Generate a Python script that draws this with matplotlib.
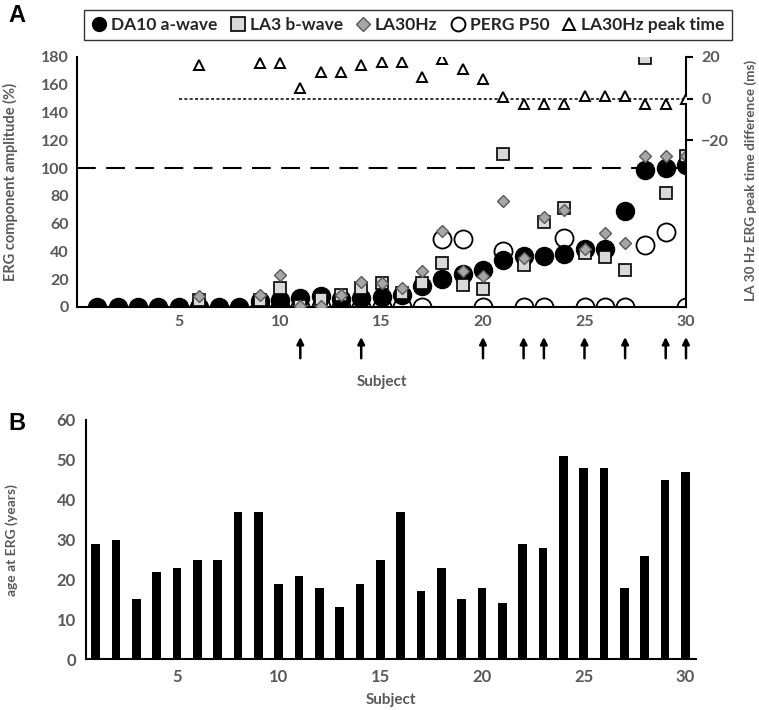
import numpy as np
import matplotlib
matplotlib.use('Agg')
import matplotlib.pyplot as plt
from matplotlib.lines import Line2D

plt.rcParams['font.family'] = ['Lato', 'DejaVu Sans']
plt.rcParams['font.weight'] = 'bold'
plt.rcParams['axes.labelweight'] = 'bold'

GREY_TXT = '#595959'
SQ_FILL = '#D9D9D9'
DIA_FILL = '#A6A6A6'
DIA_EDGE = '#595959'

nan = np.nan
subjects = np.arange(1, 31)

# panel A: amplitudes (% of normal) and peak-time difference (ms)
da10 = [0, 0, 0, 0, 0, 0, 0, 0, 4, 5, 6.5, 8, 6, 6.5, 7, 9, 15, 20, 24, 27,
        34, 37, 37, 38, 42, 42, 69, 99, 100, 102]
la3 = [nan, nan, nan, nan, nan, 5, nan, nan, 5, 14, 1, 6, 9, 14, 17, 10, 17, 32, 16, 13,
       110, 30, 61, 71, 39, 36, 27, 179, 82, 109]
la30 = [nan, nan, nan, nan, nan, 8, nan, nan, 9, 23, 0.5, 1, 9, 18, 17, 14, 26, 55, 26, 22,
        76.5, 35, 65, 70, 42, 53, 46, 109, 109, 109]
perg = [nan, nan, nan, nan, nan, nan, nan, nan, 0, 0, 0, 0, 0, 0, 0, 0, 0, 49, 49, 0,
        40, 0, 0, 49.5, 0, 0, 0, 45, 54, 0]
peak = [nan, nan, nan, nan, nan, 16, nan, nan, 17, 17, 5, 13, 13, 16, 17.5, 17.5, 10.5, 19, 14, 9.5,
        1, -2.5, -2.5, -2.5, 1.3, 1.3, 1.3, -2.5, -2.5, 0]
arrow_subjects = [11, 14, 20, 22, 23, 25, 27, 29, 30]

# panel B: age at ERG (years)
ages = [29, 30, 15, 22, 23, 25, 25, 37, 37, 19, 21, 18, 13, 19, 25, 37, 17, 23, 15, 18,
        14, 29, 28, 51, 48, 48, 18, 26, 45, 47]

fig = plt.figure(figsize=(7.59, 7.10), dpi=100)

# ---- panel A
ax = fig.add_axes([77 / 759, 1 - 307 / 710, 609 / 759, 250 / 710])
ax.set_xlim(0, 30)
ax.set_ylim(0, 180)
ax.axhline(100, color='black', lw=1.5, dashes=(9, 5), zorder=2)
ax.plot(subjects, perg, 'o', ms=13, mfc='none', mec='black', mew=1.3, zorder=3)
ax.plot(subjects, da10, 'o', ms=13, mfc='black', mec='black', zorder=4)
ax.plot(subjects, la3, 's', ms=9, mfc=SQ_FILL, mec='black', mew=1.2, zorder=5)
ax.plot(subjects, la30, 'D', ms=6, mfc=DIA_FILL, mec=DIA_EDGE, mew=1.0, zorder=6)
for s in ['top', 'right']:
    ax.spines[s].set_visible(False)
for s in ['left', 'bottom']:
    ax.spines[s].set_color('black')
    ax.spines[s].set_linewidth(1.5)
ax.set_xticks([5, 10, 15, 20, 25, 30])
ax.set_yticks(np.arange(0, 181, 20))
ax.tick_params(length=0, labelsize=11.5, labelcolor=GREY_TXT, pad=6)
ax.set_ylabel('ERG component amplitude (%)', fontsize=10.5, color=GREY_TXT)
ax.yaxis.set_label_coords(-0.097, 0.5)
ax.set_xlabel('Subject', fontsize=11, color=GREY_TXT, labelpad=33)
for s in arrow_subjects:
    ax.annotate('', xy=(s, -0.12), xytext=(s, -0.205),
                xycoords=('data', 'axes fraction'),
                arrowprops=dict(arrowstyle='-|>', color='black', lw=1.8,
                                mutation_scale=10, shrinkA=0, shrinkB=0),
                annotation_clip=False)

ax2 = ax.twinx()
ax2.set_ylim(-100, 20)
ax2.plot([5, 30], [0, 0], color='black', lw=1.1, dashes=(2, 1.5), zorder=2)
ax2.plot(subjects, peak, '^', ms=7, mfc='white', mec='black', mew=1.4, zorder=3)
for s in ['top', 'left', 'bottom']:
    ax2.spines[s].set_visible(False)
ax2.spines['right'].set_color('black')
ax2.spines['right'].set_linewidth(1.5)
ax2.set_yticks([-20, 0, 20])
ax2.tick_params(axis='y', length=5, width=1.5, direction='out',
                labelsize=11.5, labelcolor=GREY_TXT, pad=6)
fig.text(751 / 759, 1 - 180 / 710, 'LA 30 Hz ERG peak time difference (ms)',
         rotation=90, fontsize=9.7, color=GREY_TXT, ha='center', va='center')

handles = [
    Line2D([], [], ls='none', marker='o', ms=10, mfc='black', mec='black'),
    Line2D([], [], ls='none', marker='s', ms=10, mfc=SQ_FILL, mec='black', mew=1.2),
    Line2D([], [], ls='none', marker='D', ms=7, mfc=DIA_FILL, mec=DIA_EDGE),
    Line2D([], [], ls='none', marker='o', ms=10, mfc='none', mec='black', mew=1.4),
    Line2D([], [], ls='none', marker='^', ms=8, mfc='white', mec='black', mew=1.4),
]
labels = ['DA10 a-wave', 'LA3 b-wave', 'LA30Hz', 'PERG P50', 'LA30Hz peak time']
leg = fig.legend(handles, labels, loc='upper center', ncol=5,
                 bbox_to_anchor=(408 / 759, 1 - 1 / 710), frameon=True, fancybox=False,
                 edgecolor='black', fontsize=12.5, handlelength=0.9, handletextpad=0.25,
                 columnspacing=0.7, borderpad=0.4)
leg.get_frame().set_linewidth(1.0)
for t in leg.get_texts():
    t.set_color('#262626')

fig.text(8 / 759, 1 - 16 / 710, 'A', fontsize=17, fontweight='bold',
         family=['Liberation Sans', 'DejaVu Sans'], va='center')

# ---- panel B
bx = fig.add_axes([85.5 / 759, 1 - 659.3 / 710, 610 / 759, 239.3 / 710])
bx.bar(subjects, ages, width=0.42, color='black')
bx.set_xlim(0.5, 30.5)
bx.set_ylim(0, 60)
for s in ['top', 'right']:
    bx.spines[s].set_visible(False)
for s in ['left', 'bottom']:
    bx.spines[s].set_color('black')
    bx.spines[s].set_linewidth(1.5)
bx.set_xticks([5, 10, 15, 20, 25, 30])
bx.set_yticks(np.arange(0, 61, 10))
bx.tick_params(length=0, labelsize=12, labelcolor=GREY_TXT, pad=7)
bx.set_ylabel('age at ERG (years)', fontsize=10, color=GREY_TXT)
bx.yaxis.set_label_coords(-0.11, 0.5)
bx.set_xlabel('Subject', fontsize=11, color=GREY_TXT, labelpad=6)
fig.text(8 / 759, 1 - 423 / 710, 'B', fontsize=17, fontweight='bold',
         family=['Liberation Sans', 'DejaVu Sans'], va='center')

fig.savefig('out.png', dpi=100)
